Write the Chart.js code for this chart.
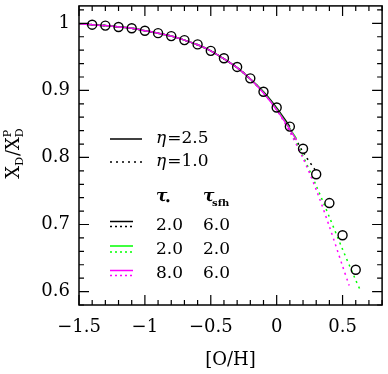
<!DOCTYPE html>
<html>
<head>
<meta charset="utf-8">
<script src="https://cdn.jsdelivr.net/npm/chart.js@4.4.1/dist/chart.umd.min.js"></script>
<style>
  html, body { margin: 0; padding: 0; background: #fff; }
  #wrap { width: 388px; height: 374px; }
</style>
</head>
<body>
<div id="wrap"><canvas id="grafica"></canvas></div>
<script>
// datos
const ohObs = [-1.4,-1.3,-1.2,-1.1,-1.0,-0.9,-0.8,-0.7,-0.6,-0.5,-0.4,-0.3,-0.2,-0.1,0.0,0.1,0.2,0.3,0.4,0.5,0.6];
const xdObs = [0.998,0.9966,0.9946,0.9927,0.989,0.9854,0.981,0.975,0.9686,0.959,0.948,0.935,0.918,0.898,0.8745,0.846,0.813,0.775,0.732,0.684,0.6325];

const ohNegroSolido = [-1.5,-1.4,-1.3,-1.2,-1.1,-1.0,-0.9,-0.8,-0.7,-0.6,-0.5,-0.4,-0.3,-0.2,-0.1,0.0,0.1];
const xdNegroSolido = [0.9993,0.998,0.9966,0.9946,0.9926,0.989,0.9853,0.981,0.975,0.968,0.959,0.947,0.934,0.917,0.898,0.874,0.846];

const ohVerdeSolido = [-1.5,-1.4,-1.3,-1.2,-1.1,-1.0,-0.9,-0.8,-0.7,-0.6,-0.5,-0.4,-0.3,-0.2,-0.1,0.0,0.1,0.15];
const xdVerdeSolido = [0.9993,0.998,0.9966,0.9946,0.9926,0.989,0.9853,0.981,0.975,0.968,0.959,0.947,0.934,0.917,0.897,0.872,0.843,0.828];

const ohMagentaSolido = [-1.5,-1.4,-1.3,-1.2,-1.1,-1.0,-0.9,-0.8,-0.7,-0.6,-0.5,-0.4,-0.3,-0.2,-0.1,0.0,0.1,0.15];
const xdMagentaSolido = [0.9993,0.998,0.9966,0.9946,0.9926,0.989,0.9853,0.981,0.975,0.968,0.959,0.947,0.934,0.917,0.896,0.871,0.842,0.826];

const ohNegroPunteado = [-1.5,-1.4,-1.3,-1.2,-1.1,-1.0,-0.9,-0.8,-0.7,-0.6,-0.5,-0.4,-0.3,-0.2,-0.1,0.0,0.1,0.2,0.3];
const xdNegroPunteado = [0.9993,0.998,0.9966,0.9946,0.9926,0.989,0.9853,0.981,0.975,0.968,0.959,0.947,0.934,0.917,0.897,0.872,0.843,0.808,0.779];

const ohVerdePunteado = [-1.5,-1.4,-1.3,-1.2,-1.1,-1.0,-0.9,-0.8,-0.7,-0.6,-0.5,-0.4,-0.3,-0.2,-0.1,0.0,0.1,0.2,0.3,0.4,0.5,0.6,0.63];
const xdVerdePunteado = [0.9993,0.998,0.9966,0.9946,0.9926,0.989,0.9853,0.981,0.975,0.968,0.959,0.947,0.934,0.917,0.897,0.872,0.840,0.802,0.758,0.711,0.663,0.617,0.604];

const ohMagentaPunteado = [-1.5,-1.4,-1.3,-1.2,-1.1,-1.0,-0.9,-0.8,-0.7,-0.6,-0.5,-0.4,-0.3,-0.2,-0.1,0.0,0.1,0.2,0.3,0.4,0.5,0.55];
const xdMagentaPunteado = [0.9993,0.998,0.9966,0.9946,0.9926,0.989,0.9853,0.981,0.975,0.968,0.959,0.947,0.934,0.917,0.896,0.871,0.838,0.799,0.752,0.697,0.638,0.609];

const xTicks = [-1.5,-1,-0.5,0,0.5];
const yTicks = [0.6,0.7,0.8,0.9,1];
const leyendaEta = ["2.5","1.0"];
const leyendaTauEstrella = ["2.0","2.0","8.0"];
const leyendaTauSfh = ["6.0","2.0","6.0"];
const coloresModelos = ["#000000","#00ff00","#ff00ff"];

const FUENTE = "DejaVu Serif";

function puntos(xs, ys){
  return xs.map((x, i) => ({ x: x, y: ys[i] }));
}

// order: numero menor se dibuja encima
function linea(xs, ys, color, punteada, orden){
  return {
    data: puntos(xs, ys),
    borderColor: color,
    borderWidth: 1.5,
    borderDash: punteada ? [2, 4] : [],
    pointRadius: 0,
    fill: false,
    tension: 0.3,
    order: orden
  };
}

function formatoTick(v){
  if (v === 0) return "0";
  return (v < 0 ? "\u2212" : "") + String(Math.abs(v));
}

function sinRelleno(s){
  s.paddingTop = 0; s.paddingBottom = 0; s.paddingLeft = 0; s.paddingRight = 0;
}

// marco, ticks hacia adentro, leyenda y titulo del eje y
const decoracion = {
  id: "decoracion",
  afterDraw(chart){
    const ctx = chart.ctx;
    const a = chart.chartArea;
    const sx = chart.scales.x, sy = chart.scales.y;
    ctx.save();
    ctx.strokeStyle = "#000";
    ctx.lineWidth = 1.5;
    ctx.strokeRect(a.left, a.top, a.right - a.left, a.bottom - a.top);

    ctx.lineWidth = 1.2;
    ctx.beginPath();
    for (let k = -15; k <= 8; k++) {
      const px = sx.getPixelForValue(k / 10);
      const largo = (k % 5 === 0) ? 10 : 5;
      ctx.moveTo(px, a.bottom); ctx.lineTo(px, a.bottom - largo);
      ctx.moveTo(px, a.top); ctx.lineTo(px, a.top + largo);
    }
    for (let k = 29; k <= 51; k++) {
      const py = sy.getPixelForValue(k / 50);
      const largo = (k % 5 === 0) ? 10 : 5;
      ctx.moveTo(a.left, py); ctx.lineTo(a.left + largo, py);
      ctx.moveTo(a.right, py); ctx.lineTo(a.right - largo, py);
    }
    ctx.stroke();

    // titulo eje y: X_D / X^P_D
    ctx.fillStyle = "#000";
    ctx.translate(14, 153);
    ctx.rotate(-Math.PI / 2);
    ctx.textBaseline = "middle";
    ctx.textAlign = "left";
    const grande = "18px " + FUENTE, chica = "11px " + FUENTE;
    ctx.font = grande; const wX = ctx.measureText("X").width, wS = ctx.measureText("/").width;
    ctx.font = chica; const wD = ctx.measureText("D").width;
    let x0 = -(2 * wX + 2 * wD + wS + 2) / 2;
    ctx.font = grande; ctx.fillText("X", x0, 0); x0 += wX;
    ctx.font = chica; ctx.fillText("D", x0, 6); x0 += wD + 1;
    ctx.font = grande; ctx.fillText("/", x0, 0); x0 += wS;
    ctx.fillText("X", x0, 0); x0 += wX;
    ctx.font = chica; ctx.fillText("P", x0, -6); ctx.fillText("D", x0, 6);
    ctx.setTransform(1, 0, 0, 1, 0, 0);

    // leyenda
    ctx.textBaseline = "middle";
    ctx.textAlign = "left";
    const lx0 = 110, lx1 = 142;
    [139, 162].forEach((y, i) => {
      ctx.strokeStyle = "#000";
      ctx.lineWidth = 1.5;
      ctx.setLineDash(i === 0 ? [] : [2, 4]);
      ctx.beginPath(); ctx.moveTo(lx0, y); ctx.lineTo(lx1, y); ctx.stroke();
      ctx.font = "italic 17px " + FUENTE;
      ctx.fillText("\u03b7", 156, y);
      const w = ctx.measureText("\u03b7").width;
      ctx.font = "17px " + FUENTE;
      ctx.fillText("=" + leyendaEta[i], 156 + w + 1, y);
    });
    ctx.setLineDash([]);

    ctx.font = "italic bold 17px " + FUENTE;
    ctx.fillText("\u03c4", 156, 197);
    ctx.font = "bold 9px " + FUENTE;
    ctx.fillText("\u2022", 165, 202);
    ctx.font = "italic bold 17px " + FUENTE;
    ctx.fillText("\u03c4", 203, 197);
    ctx.font = "bold 10px " + FUENTE;
    ctx.fillText("sfh", 212, 203);

    [[221.5, 226.5, 226], [246, 252, 250], [270.5, 275.5, 274]].forEach((f, i) => {
      ctx.strokeStyle = coloresModelos[i];
      ctx.lineWidth = 1.5;
      ctx.beginPath(); ctx.moveTo(lx0, f[0]); ctx.lineTo(133, f[0]); ctx.stroke();
      ctx.setLineDash([2, 3]);
      ctx.beginPath(); ctx.moveTo(lx0, f[1]); ctx.lineTo(133, f[1]); ctx.stroke();
      ctx.setLineDash([]);
      ctx.fillStyle = "#000";
      ctx.font = "17px " + FUENTE;
      ctx.fillText(leyendaTauEstrella[i], 156, f[2]);
      ctx.fillText(leyendaTauSfh[i], 203, f[2]);
    });
    ctx.restore();
  }
};

const grafica = document.getElementById("grafica").getContext("2d");

const chart = new Chart(grafica, {
  type: "line",
  data: {
    datasets: [
      linea(ohNegroPunteado, xdNegroPunteado, coloresModelos[0], true, 7),
      linea(ohVerdePunteado, xdVerdePunteado, coloresModelos[1], true, 6),
      linea(ohMagentaPunteado, xdMagentaPunteado, coloresModelos[2], true, 5),
      linea(ohNegroSolido, xdNegroSolido, coloresModelos[0], false, 4),
      linea(ohVerdeSolido, xdVerdeSolido, coloresModelos[1], false, 3),
      linea(ohMagentaSolido, xdMagentaSolido, coloresModelos[2], false, 2),
      {
        data: puntos(ohObs, xdObs),
        showLine: false,
        order: 1,
        pointRadius: 4.5,
        pointBorderWidth: 1.4,
        pointBorderColor: "#000",
        pointBackgroundColor: "rgba(0,0,0,0)"
      }
    ]
  },
  options: {
    responsive: true,
    maintainAspectRatio: false,
    animation: false,
    devicePixelRatio: 1,
    layout: { padding: { top: 2, right: 2, left: 0, bottom: 0 } },
    plugins: { legend: { display: false }, tooltip: { enabled: false } },
    scales: {
      x: {
        type: "linear",
        min: -1.5,
        max: 0.8,
        grid: { display: false, drawTicks: false },
        border: { display: false },
        afterBuildTicks: (s) => { s.ticks = xTicks.map(v => ({ value: v })); },
        afterFit: (s) => { s.height = 69; sinRelleno(s); },
        ticks: {
          padding: 12,
          maxRotation: 0,
          autoSkip: false,
          color: "#000",
          font: { family: FUENTE, size: 18 },
          callback: (v) => formatoTick(v)
        },
        title: {
          display: true,
          text: "[O/H]",
          color: "#000",
          font: { family: FUENTE, size: 18 },
          padding: { top: 0, bottom: 3 }
        }
      },
      y: {
        type: "linear",
        min: 0.58,
        max: 1.026,
        grid: { display: false, drawTicks: false },
        border: { display: false },
        afterBuildTicks: (s) => { s.ticks = yTicks.map(v => ({ value: v })); },
        afterFit: (s) => { s.width = 79; sinRelleno(s); },
        ticks: {
          padding: 9,
          autoSkip: false,
          color: "#000",
          font: { family: FUENTE, size: 18 },
          callback: (v) => formatoTick(v)
        }
      }
    }
  },
  plugins: [decoracion]
});
</script>
</body>
</html>
